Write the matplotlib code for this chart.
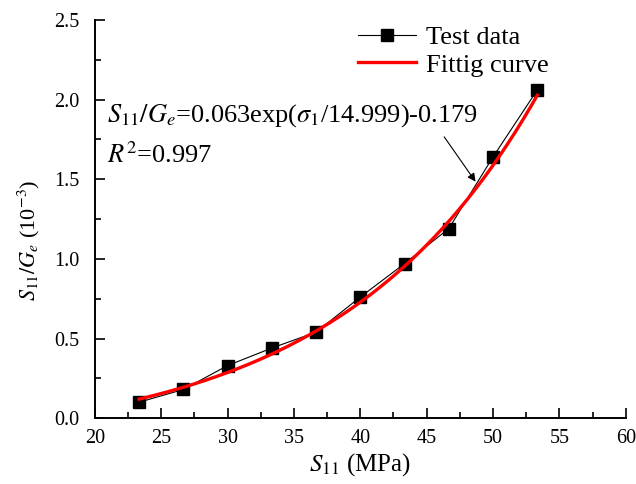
import numpy as np
import matplotlib
matplotlib.use("Agg")
import matplotlib.pyplot as plt
from matplotlib.ticker import MultipleLocator

plt.rcParams['font.family'] = ['Liberation Serif', 'DejaVu Serif']
plt.rcParams['mathtext.fontset'] = 'stix'

# test data
stress = [23.33, 26.67, 30.0, 33.33, 36.67, 40.0, 43.33, 46.67, 50.0, 53.33]
ratio = [0.10, 0.18, 0.33, 0.44, 0.54, 0.76, 0.97, 1.19, 1.64, 2.06]

# fitted parameters shown in the chart
fit_a, fit_b, fit_c = 0.063, 14.999, -0.179

fig = plt.figure(figsize=(6.36, 4.84), dpi=100)
ax = fig.add_axes([0.149, 0.136, 0.835, 0.823])

ax.plot(stress, ratio, color='black', lw=0.8, marker='s', ms=8.5,
        label='Test data', zorder=2)
xf = np.linspace(stress[0], stress[-1], 200)
ax.plot(xf, fit_a * np.exp(xf / fit_b) + fit_c, color='red', lw=2.4,
        label='Fittig curve', zorder=3)

ax.set_xlim(20, 60)
ax.set_ylim(0, 2.5)
ax.xaxis.set_major_locator(MultipleLocator(5))
ax.xaxis.set_minor_locator(MultipleLocator(2.5))
ax.yaxis.set_major_locator(MultipleLocator(0.5))
ax.yaxis.set_minor_locator(MultipleLocator(0.25))
ax.yaxis.set_major_formatter(matplotlib.ticker.FormatStrFormatter('%.1f'))

for s in ['top', 'right']:
    ax.spines[s].set_visible(False)
for s in ['left', 'bottom']:
    ax.spines[s].set_linewidth(1.4)
ax.tick_params(which='both', direction='in', width=1.2, labelsize=14.5)
ax.tick_params(which='major', length=7)
ax.tick_params(axis='x', which='major', pad=8)
ax.tick_params(axis='y', which='major', pad=11)
ax.tick_params(which='minor', length=4)

ax.set_xlabel(r'$S_{11}$ (MPa)', fontsize=18)
ax.xaxis.set_label_coords(0.5, -0.082)
ax.set_ylabel(r'$S_{11}/G_e$ (10$^{-3}$)', fontsize=16)
ax.yaxis.set_label_coords(-0.1, 0.447)

ax.text(20.9, 1.90, r'$S_{11}/G_e$=0.063exp($\sigma_1$/14.999)-0.179',
        fontsize=19, va='center', ha='left')
ax.text(20.9, 1.65, r'$R^2$=0.997', fontsize=19, va='center', ha='left')
ax.annotate('', xy=(48.8, 1.47), xytext=(46.2, 1.78),
            arrowprops=dict(arrowstyle='-|>', color='black', lw=0.8,
                            mutation_scale=12))

ax.legend(loc='upper left', bbox_to_anchor=(0.465, 1.025), frameon=False,
          fontsize=19, handlelength=2.2, handletextpad=0.4, labelspacing=0.15,
          borderaxespad=0.2)

fig.savefig('out.png', dpi=100)
